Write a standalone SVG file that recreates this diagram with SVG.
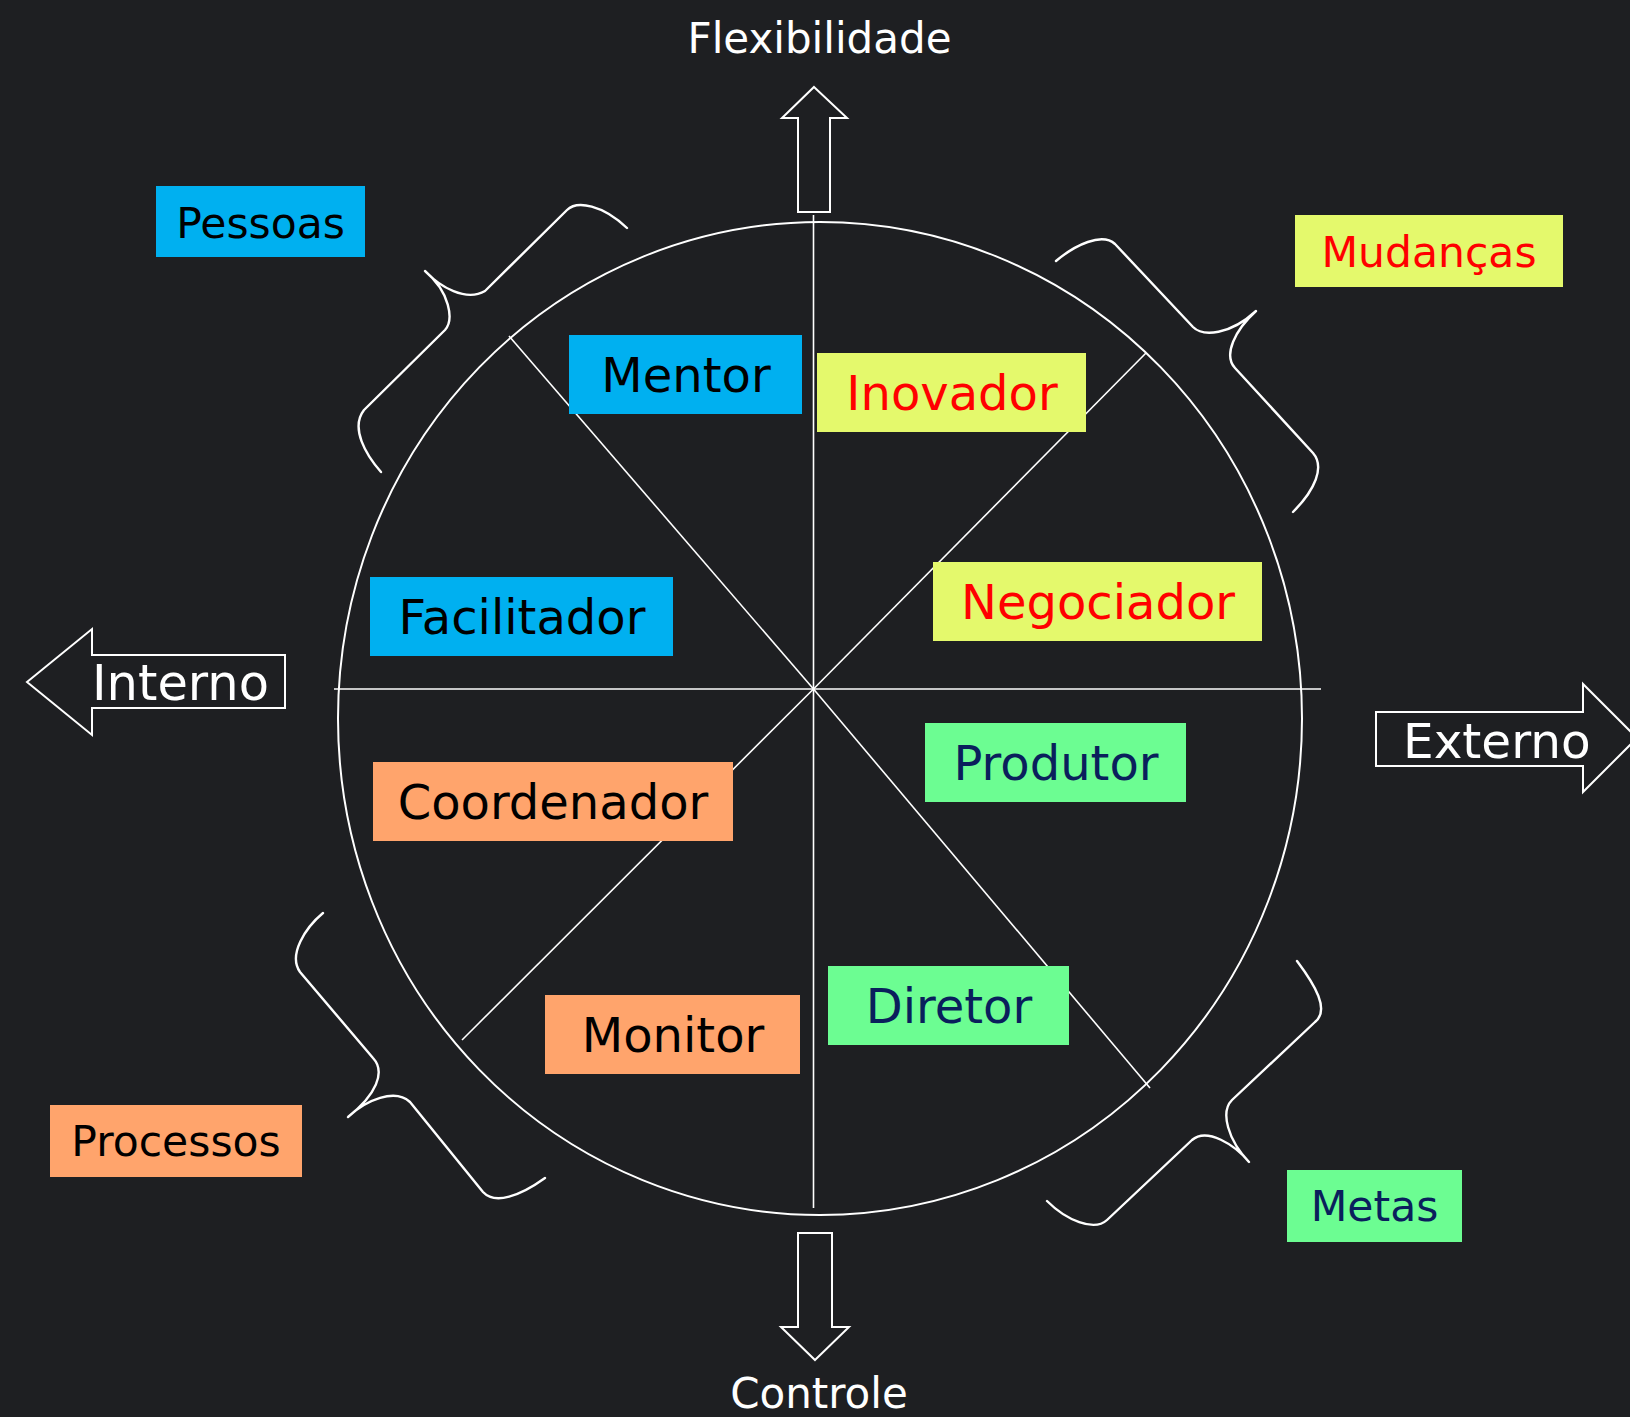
<svg xmlns="http://www.w3.org/2000/svg" width="1630" height="1417" viewBox="0 0 1630 1417">
<style>
.bg{fill:#1E1F22}
.ln{stroke:#FFFFFF;stroke-width:1.6;fill:none}
.ring{stroke:#FFFFFF;stroke-width:2;fill:none}
.brace{stroke:#FFFFFF;stroke-width:2.4;fill:none;stroke-linecap:round;stroke-linejoin:round}
.arr{stroke:#FFFFFF;stroke-width:2;fill:#1E1F22;stroke-linejoin:miter}
text{font-family:"DejaVu Sans","Liberation Sans",sans-serif}
.ax{font-size:42px;fill:#FFFFFF}
.big{fill:#FFFFFF}
.in{font-size:48px;text-anchor:middle}
.out{font-size:42.5px;text-anchor:middle}
.blue{fill:#00B0F0}
.yel{fill:#E4F96C}
.org{fill:#FFA46C}
.grn{fill:#6CFD92}
.tk{fill:#000000}
.tr{fill:#FF0000}
.tn{fill:#0A1F5C}
</style>
<rect class="bg" x="0" y="0" width="1630" height="1417"/>

<g id="connectors">
  <ellipse class="ring" cx="820" cy="718.5" rx="482" ry="496.5"/>
  <line class="ln" x1="334" y1="689" x2="1321" y2="689"/>
  <line class="ln" x1="813.5" y1="215" x2="813.5" y2="1208"/>
  <line class="ln" x1="509" y1="336" x2="813.5" y2="689"/>
  <line class="ln" x1="1146" y1="353" x2="813.5" y2="689"/>
  <line class="ln" x1="462" y1="1040" x2="813.5" y2="689"/>
  <line class="ln" x1="1150" y1="1088" x2="813.5" y2="689"/>
  <path class="brace" d="M 381,472 C 366,455 350,428 364,410 L 445,330 C 454,320 450,292 425,271 C 440,287 466,302 485,291 L 567,210 C 577,200 603,205 627,228"/>
  <path class="brace" d="M 1056,261 C 1075,245 1102,232 1115,244 L 1193,327 C 1203,337 1230,335 1256,311 C 1235,330 1223,355 1235,368 L 1313,453 C 1325,467 1315,490 1293,512"/>
  <path class="brace" d="M 323,913 C 305,928 288,955 300,972 L 373,1058 C 386,1072 376,1095 348,1117 C 366,1100 395,1088 410,1102 L 483,1192 C 495,1205 520,1196 545,1178"/>
  <path class="brace" d="M 1297,961 C 1315,985 1330,1010 1315,1022 L 1232,1100 C 1220,1112 1228,1140 1249,1162 C 1235,1145 1207,1127 1192,1140 L 1107,1220 C 1094,1232 1066,1220 1047,1201"/>
</g>

<g id="arrow-flexibilidade">
  <path class="arr" d="M 814,87 L 847,118 L 830,118 L 830,212 L 798,212 L 798,118 L 782,118 Z"/>
  <text class="ax" x="819.5" y="53" text-anchor="middle">Flexibilidade</text>
</g>
<g id="arrow-controle">
  <path class="arr" d="M 815,1360 L 849,1327 L 832,1327 L 832,1233 L 798,1233 L 798,1327 L 781,1327 Z"/>
  <text class="ax" x="819" y="1408" text-anchor="middle">Controle</text>
</g>
<g id="arrow-interno">
  <path class="arr" d="M 27,682 L 92,629 L 92,655 L 285,655 L 285,708 L 92,708 L 92,735 Z"/>
  <text class="big" x="92" y="700" font-size="49.5">Interno</text>
</g>
<g id="arrow-externo">
  <path class="arr" d="M 1637,738 L 1583,684 L 1583,712 L 1376,712 L 1376,766 L 1583,766 L 1583,792 Z"/>
  <text class="big" x="1403" y="758" font-size="48.5">Externo</text>
</g>

<g id="node-pessoas"><rect class="blue" x="156" y="186" width="209" height="71"/><text class="out tk" x="260.5" y="237.5">Pessoas</text></g>
<g id="node-mudancas"><rect class="yel" x="1295" y="215" width="268" height="72"/><text class="out tr" x="1429" y="266.5">Mudanças</text></g>
<g id="node-processos"><rect class="org" x="50" y="1105" width="252" height="72"/><text class="out tk" x="176" y="1156">Processos</text></g>
<g id="node-metas"><rect class="grn" x="1287" y="1170" width="175" height="72"/><text class="out tn" x="1374.5" y="1221">Metas</text></g>

<g id="node-mentor"><rect class="blue" x="569" y="335" width="233" height="79"/><text class="in tk" x="686" y="391.5">Mentor</text></g>
<g id="node-inovador"><rect class="yel" x="817" y="353" width="269" height="79"/><text class="in tr" x="952" y="409.5">Inovador</text></g>
<g id="node-facilitador"><rect class="blue" x="370" y="577" width="303" height="79"/><text class="in tk" x="522" y="633.5">Facilitador</text></g>
<g id="node-negociador"><rect class="yel" x="933" y="562" width="329" height="79"/><text class="in tr" x="1098" y="618.5">Negociador</text></g>
<g id="node-produtor"><rect class="grn" x="925" y="723" width="261" height="79"/><text class="in tn" x="1056" y="779.5">Produtor</text></g>
<g id="node-coordenador"><rect class="org" x="373" y="762" width="360" height="79"/><text class="in tk" x="553" y="818.5">Coordenador</text></g>
<g id="node-diretor"><rect class="grn" x="828" y="966" width="241" height="79"/><text class="in tn" x="949" y="1022.5">Diretor</text></g>
<g id="node-monitor"><rect class="org" x="545" y="995" width="255" height="79"/><text class="in tk" x="673" y="1051.5">Monitor</text></g>
</svg>
